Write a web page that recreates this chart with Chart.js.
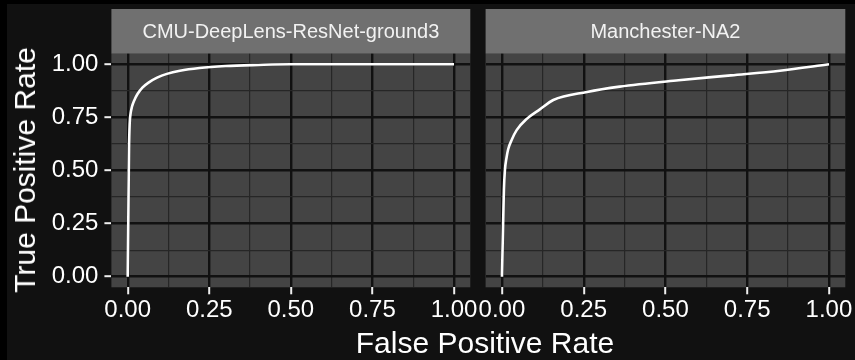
<!DOCTYPE html>
<html>
<head>
<meta charset="utf-8">
<script src="https://cdn.jsdelivr.net/npm/chart.js@4"></script>
<style>
html, body { margin: 0; padding: 0; background: #000; }
#wrap { position: relative; width: 855px; height: 360px; overflow: hidden; background: #000; }
#bg { position: absolute; left: 7px; top: 4px; width: 848px; height: 356px; background: #111; }
canvas { position: absolute; left: 0; top: 0; }
.title { position: absolute; color: #fff; font-family: "Liberation Sans", Arial, sans-serif; font-size: 30px; white-space: nowrap; line-height: 1; }
#xtitle { left: 111px; width: 748px; text-align: center; top: 328px; }
#ytitle { left: 25px; top: 170px; transform: translate(-50%, -50%) rotate(-90deg); }
</style>
</head>
<body>
<div id="wrap">
  <div id="bg"></div>
  <canvas id="c1" width="855" height="360"></canvas>
  <canvas id="c2" width="855" height="360"></canvas>
  <div class="title" id="xtitle">False Positive Rate</div>
  <div class="title" id="ytitle">True Positive Rate</div>
</div>
<script>
// Data
const panelNames = ["CMU-DeepLens-ResNet-ground3", "Manchester-NA2"];
const majorTicks = [0, 0.25, 0.5, 0.75, 1];
const minorTicks = [0.125, 0.375, 0.625, 0.875];
const tickLabels = ["0.00", "0.25", "0.50", "0.75", "1.00"];

const cmuFpr = [0, 0.002, 0.004, 0.006, 0.009, 0.013, 0.02, 0.03, 0.045, 0.065, 0.09, 0.12, 0.16, 0.22, 0.3, 0.4, 0.5, 1.0];
const cmuTpr = [0, 0.3, 0.6, 0.72, 0.77, 0.80, 0.83, 0.86, 0.89, 0.915, 0.937, 0.955, 0.97, 0.983, 0.992, 0.997, 1.0, 1.0];

const manFpr = [0, 0.004, 0.006, 0.009, 0.014, 0.019, 0.03, 0.045, 0.075, 0.116, 0.157, 0.26, 0.36, 0.54, 0.70, 0.85, 1.0];
const manTpr = [0, 0.28, 0.41, 0.50, 0.56, 0.60, 0.645, 0.69, 0.742, 0.788, 0.832, 0.87, 0.895, 0.925, 0.948, 0.97, 1.0];

const FONT = "'Liberation Sans', Arial, sans-serif";
const allTicks = majorTicks.concat(minorTicks);
const isMajor = v => majorTicks.includes(v);

// Panel background + facet strip
const stripPlugin = {
    id: "strip",
    beforeDraw(chart, args, opts) {
        const { ctx, chartArea: a } = chart;
        ctx.save();
        ctx.fillStyle = "#444444";
        ctx.fillRect(a.left, a.top, a.right - a.left, a.bottom - a.top);
        ctx.fillStyle = "#707070";
        ctx.fillRect(a.left, 9, a.right - a.left, a.top - 9);
        ctx.fillStyle = "#f2f2f2";
        ctx.font = "20px " + FONT;
        ctx.textAlign = "center";
        ctx.textBaseline = "middle";
        ctx.fillText(opts.text, (a.left + a.right) / 2, (9 + a.top) / 2 + 1);
        ctx.restore();
    }
};

function gridOpts(ticks) {
    return {
        color: c => isMajor(c.tick.value) ? "#111111" : "#262626",
        lineWidth: c => isMajor(c.tick.value) ? 2.4 : 1.2,
        tickColor: c => isMajor(c.tick.value) ? "#eeeeee" : "rgba(0,0,0,0)",
        tickWidth: 2,
        tickLength: 7,
        drawTicks: ticks
    };
}

function makePanel(id, name, fpr, tpr, leftW, rightPad, showY) {
    return new Chart(document.getElementById(id), {
        type: "scatter",
        data: {
            datasets: [{
                data: fpr.map((x, i) => ({ x: x, y: tpr[i] })),
                showLine: true,
                borderColor: "#ffffff",
                borderWidth: 2.6,
                pointRadius: 0,
                cubicInterpolationMode: "monotone"
            }]
        },
        options: {
            responsive: false,
            animation: false,
            devicePixelRatio: 1,
            layout: { padding: { top: 53.7, left: 0, right: rightPad, bottom: 0 } },
            plugins: { legend: { display: false }, tooltip: { enabled: false }, strip: { text: name } },
            scales: {
                x: {
                    type: "linear", min: -0.05, max: 1.05,
                    afterBuildTicks: s => { s.ticks = allTicks.map(v => ({ value: v })); },
                    afterFit: s => { s.height = 72.7; },
                    border: { display: false },
                    grid: gridOpts(true),
                    ticks: {
                        color: "#ffffff", font: { size: 24, family: FONT }, padding: 2,
                        maxRotation: 0, autoSkip: false,
                        callback: v => isMajor(v) ? tickLabels[majorTicks.indexOf(v)] : ""
                    }
                },
                y: {
                    type: "linear", min: -0.05, max: 1.05,
                    afterBuildTicks: s => { s.ticks = allTicks.map(v => ({ value: v })); },
                    afterFit: s => { s.width = leftW; },
                    border: { display: false },
                    grid: gridOpts(showY),
                    ticks: {
                        display: showY,
                        color: "#ffffff", font: { size: 24, family: FONT }, padding: 6,
                        autoSkip: false,
                        callback: v => isMajor(v) ? tickLabels[majorTicks.indexOf(v)] : ""
                    }
                }
            }
        },
        plugins: [stripPlugin]
    });
}

makePanel("c1", panelNames[0], cmuFpr, cmuTpr, 111.4, 855 - 470.3, true);
makePanel("c2", panelNames[1], manFpr, manTpr, 485.6, 855 - 845.3, false);
</script>
</body>
</html>
